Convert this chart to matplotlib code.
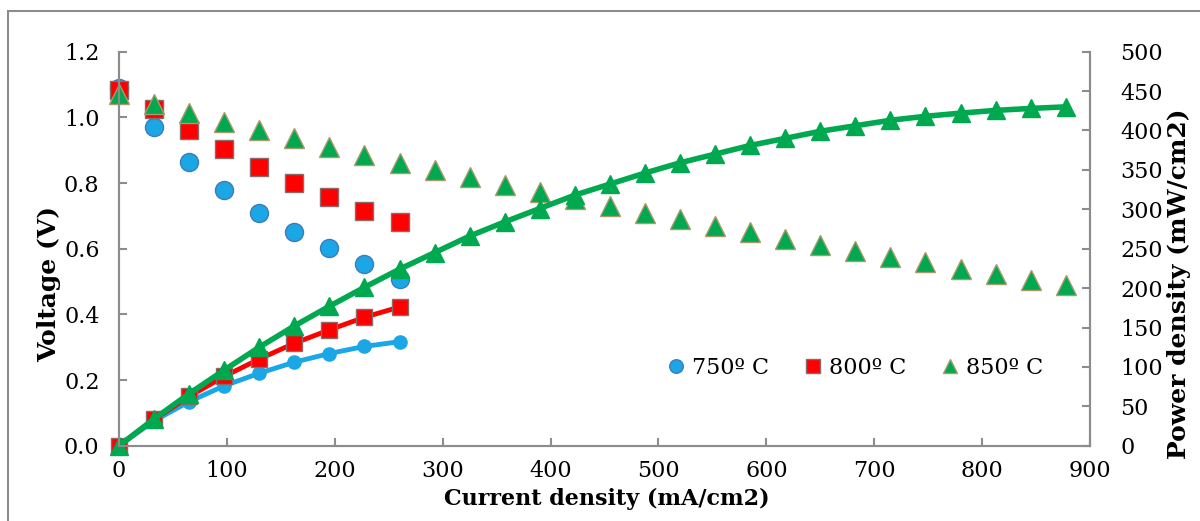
import numpy as np
import matplotlib
matplotlib.use("Agg")
import matplotlib.pyplot as plt
from matplotlib.patches import Rectangle

# current density (mA/cm2)
current_750 = [0, 32.5, 65, 97.5, 130, 162.5, 195, 227.5, 260]
current_800 = [0, 32.5, 65, 97.5, 130, 162.5, 195, 227.5, 260]
current_850 = [0, 32.5, 65, 97.5, 130, 162.5, 195, 227.5, 260, 292.5,
               325, 357.5, 390, 422.5, 455, 487.5, 520, 552.5, 585, 617.5,
               650, 682.5, 715, 747.5, 780, 812.5, 845, 877.5]

# voltage (V)
volt_750 = [1.09, 0.971, 0.863, 0.778, 0.709, 0.651, 0.601, 0.553, 0.507]
volt_800 = [1.083, 1.024, 0.961, 0.903, 0.849, 0.801, 0.756, 0.715, 0.680]
volt_850 = [1.070, 1.040, 1.014, 0.986, 0.961, 0.936, 0.910, 0.886, 0.861, 0.840,
            0.817, 0.795, 0.772, 0.751, 0.731, 0.709, 0.689, 0.669, 0.650, 0.630,
            0.612, 0.593, 0.574, 0.558, 0.539, 0.522, 0.505, 0.488]

# power density (mW/cm2)
power_750 = [0, 31.6, 56, 76, 92, 106, 117, 126, 132]
power_800 = [0, 33.3, 62.5, 88, 110, 130, 147, 163, 176]
power_850 = [0, 34, 66, 96, 125, 152, 177, 201, 224, 245,
             266, 284, 301, 318, 332, 346, 359, 370, 381, 390,
             399, 406, 413, 418, 422, 425.5, 428, 430]

labels = ["750º C", "800º C", "850º C"]

blue = "#1BA6E6"
red = "#FF0000"
green = "#00A84F"
grey = "#8C8C8C"

plt.rcParams['font.family'] = ['DejaVu Serif']
plt.rcParams['font.size'] = 16

fig = plt.figure(figsize=(12, 5.21), dpi=100)
ax = fig.add_axes([0.0992, 0.1445, 0.8091, 0.7563])
ax2 = ax.twinx()

# voltage markers
ax.plot(current_750, volt_750, 'o', ms=13, color=blue, mec="#3A7DBA", mew=1, label=labels[0], clip_on=False)
ax.plot(current_800, volt_800, 's', ms=13, color=red, mec="#8C6A6A", mew=1, label=labels[1], clip_on=False)
ax.plot(current_850, volt_850, '^', ms=14, color=green, mec="#A89A6A", mew=1, label=labels[2], clip_on=False)

# power curves
ax2.plot(current_750, power_750, '-o', lw=3.5, ms=9.5, color=blue, mec=blue, clip_on=False)
ax2.plot(current_800, power_800, '-s', lw=3.5, ms=11, color=red, mec="#8C6A6A", mew=1, clip_on=False)
ax2.plot(current_850, power_850, '-^', lw=4, ms=13, color=green, mec=green, clip_on=False)

ax.set_xlim(0, 900)
ax.set_ylim(0, 1.2)
ax2.set_ylim(0, 500)
ax.set_xticks(np.arange(0, 901, 100))
ax.set_yticks(np.arange(0, 1.21, 0.2))
ax.set_yticklabels([f"{v:.1f}" for v in np.arange(0, 1.21, 0.2)])
ax2.set_yticks(np.arange(0, 501, 50))

for a in (ax, ax2):
    for s in a.spines.values():
        s.set_color(grey)
        s.set_linewidth(1.5)
    a.spines['top'].set_visible(False)
ax.tick_params(axis='y', direction='in', length=6, width=1.5, color=grey, pad=14)
ax.tick_params(axis='x', direction='in', length=6, width=1.5, color=grey, pad=10)
ax2.tick_params(axis='y', direction='in', length=6, width=1.5, color=grey, pad=22)

ax.set_xlabel("Current density (mA/cm2)", fontweight='bold', fontsize=16)
ax.set_ylabel("Voltage (V)", fontweight='bold', fontsize=18)
ax2.set_ylabel("Power density (mW/cm2)", fontweight='bold', fontsize=18)
ax.xaxis.set_label_coords(0.502, -0.108)
ax.yaxis.set_label_coords(-0.06, 0.41)
ax2.yaxis.set_label_coords(1.079, 0.41)

h, l = ax.get_legend_handles_labels()
ax2.legend(h, l, ncol=3, frameon=False, markerscale=0.75, loc='center',
           bbox_to_anchor=(0.757, 0.197), handletextpad=0.2, columnspacing=1.5,
           handlelength=1.0, fontsize=16)

fig.patches.append(Rectangle((8 / 1200, -0.1), 1.1, 1.1 - 11 / 521, transform=fig.transFigure,
                             fill=False, edgecolor=grey, linewidth=1.5))

fig.savefig("out.png", dpi=100)
